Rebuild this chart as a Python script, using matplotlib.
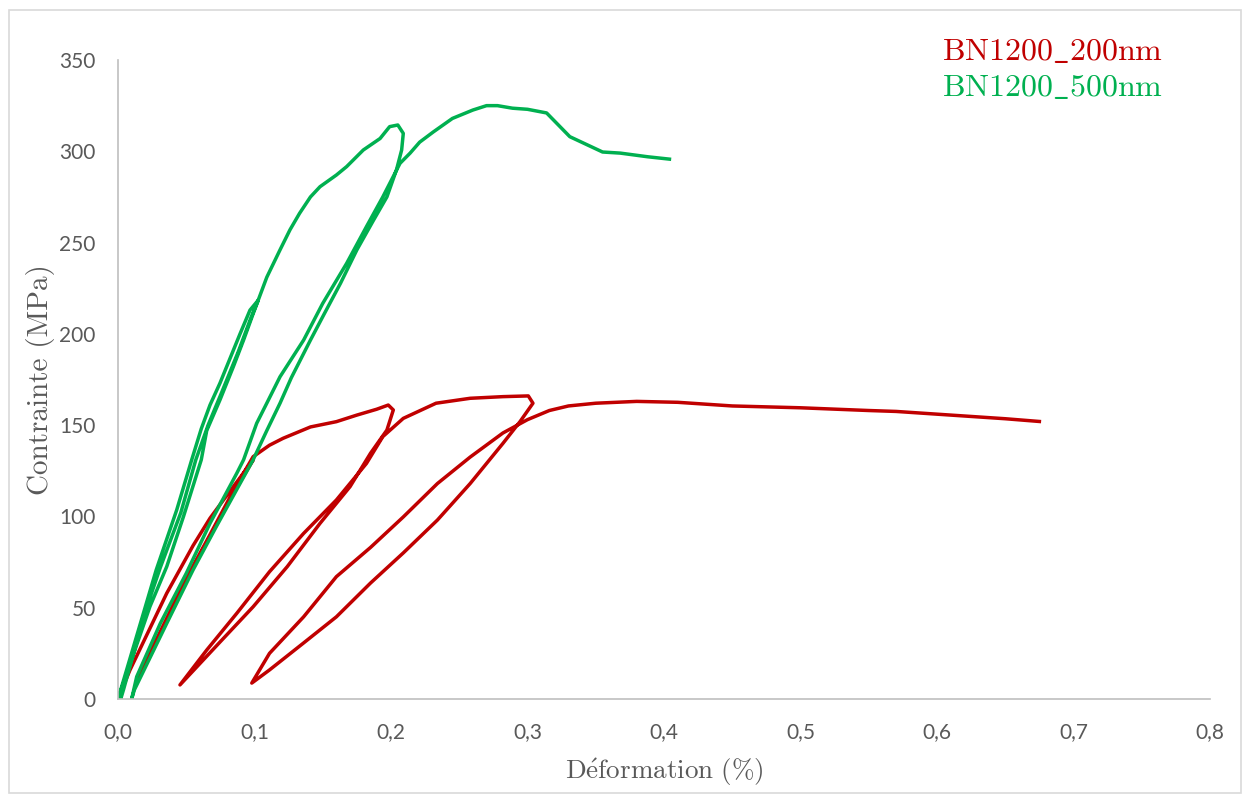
import numpy as np
import matplotlib.pyplot as plt
from matplotlib.patches import Rectangle
from matplotlib.ticker import FuncFormatter

plt.rcParams['mathtext.fontset'] = 'cm'

# strain (%) / stress (MPa)
red_x = [0, 0.0088, 0.0357, 0.055, 0.0674, 0.0845, 0.099,
         0.0845, 0.0674, 0.050, 0.031, 0.0137,
         0.031, 0.050, 0.0674, 0.0845, 0.099, 0.111, 0.121, 0.141, 0.160, 0.175, 0.1895, 0.198, 0.2017,
         0.197, 0.185, 0.170, 0.148, 0.124, 0.099, 0.075, 0.0454,
         0.065, 0.087, 0.111, 0.136, 0.160, 0.182, 0.194, 0.209, 0.233, 0.258, 0.282, 0.3006, 0.304,
         0.2945, 0.282, 0.258, 0.234, 0.209, 0.185, 0.160, 0.136, 0.111, 0.098,
         0.111, 0.136, 0.160, 0.185, 0.209, 0.234, 0.258, 0.282, 0.30, 0.316, 0.33, 0.35, 0.38,
         0.41, 0.45, 0.5, 0.55, 0.57, 0.6, 0.65, 0.675]
red_y = [0, 15.9, 57.9, 84, 99, 116.3, 130.9,
         112.6, 88.9, 65.2, 36, 11.3,
         37, 66, 90, 114, 132.7, 139, 142.8, 149, 151.9, 155.5, 158.7, 161, 158.3,
         147.3, 134.6, 116.3, 96.2, 72.5, 50.5, 31.4, 7.7,
         26.8, 46.9, 69.7, 90.7, 109, 129, 143.7, 153.7, 162, 164.7, 165.6, 166, 162,
         151.9, 140, 118, 98, 80, 63.5, 45, 30.7, 15.9, 8.7,
         25, 45, 67, 83, 99.7, 118, 132.5, 145.7, 153, 158, 160.5, 162, 163,
         162.5, 160.5, 159.5, 158, 157.5, 156, 153.5, 152]

green_x = [0, 0.0186, 0.028, 0.043, 0.054, 0.061, 0.0674, 0.0747, 0.0845, 0.0894, 0.0967, 0.1028,
           0.099, 0.092, 0.0845, 0.0747, 0.065, 0.061, 0.048, 0.0357, 0.0234, 0.0015, 0.002,
           0.004, 0.020, 0.031, 0.046, 0.057, 0.066, 0.076, 0.088, 0.097, 0.103, 0.109, 0.1187,
           0.126, 0.133, 0.141, 0.148, 0.160, 0.1675, 0.1797, 0.192, 0.199, 0.205, 0.209,
           0.2078, 0.204, 0.197, 0.187, 0.175, 0.163, 0.150, 0.141, 0.127, 0.1187, 0.109,
           0.099, 0.072, 0.055, 0.0357, 0.012, 0.010,
           0.0137, 0.031, 0.050, 0.0674, 0.087, 0.092, 0.1016, 0.109, 0.1187, 0.136, 0.150,
           0.1675, 0.182, 0.194, 0.2066, 0.214, 0.221, 0.231, 0.245, 0.26, 0.270, 0.278,
           0.289, 0.30, 0.314, 0.331, 0.355, 0.368, 0.388, 0.404]
green_y = [0, 46.9, 70.7, 103.5, 131, 148, 161, 173, 191, 200, 213, 218.5,
           211, 196.6, 182, 163.8, 147, 131, 100, 72.5, 50.6, 3.3, 0,
           5, 48, 72, 102, 131, 150, 168, 190, 208, 219, 231, 246,
           257, 266, 275, 280.6, 287, 291.6, 300.7, 307, 313.5, 314.4, 309.8,
           300.7, 289.8, 275, 262, 246, 227.7, 209.4, 196.6, 176, 162, 147,
           131, 94.4, 70.7, 41.4, 5, 0,
           12.2, 41.4, 68.8, 96.2, 123.6, 131, 151, 162, 176.5, 196.6, 216.7,
           238.6, 258.7, 275, 293.4, 299, 305, 310.6, 318, 322.6, 325, 325,
           323.6, 323, 321, 308, 299.6, 299, 297, 295.7]

labels = [r"$\mathrm{BN1200\_200nm}$", r"$\mathrm{BN1200\_500nm}$"]
colors = ["#C00000", "#00B050"]

fig = plt.figure(figsize=(12.5, 7.99), dpi=100)
ax = fig.add_axes([0.0944, 0.1252, 0.8736, 0.7997])

ax.plot(red_x, red_y, color=colors[0], lw=2.5, solid_joinstyle='round')
ax.plot(green_x, green_y, color=colors[1], lw=2.5, solid_joinstyle='round')

ax.set_xlim(0, 0.8)
ax.set_ylim(0, 350)
ax.set_xticks(np.arange(0, 0.81, 0.1))
ax.set_yticks(np.arange(0, 351, 50))
ax.xaxis.set_major_formatter(FuncFormatter(lambda v, p: f"{v:.1f}".replace(".", ",")))
ax.tick_params(length=0, labelsize=15, labelcolor="#595959")
ax.tick_params(axis='y', pad=16)
ax.tick_params(axis='x', pad=17)
for lab in ax.get_xticklabels() + ax.get_yticklabels():
    lab.set_family("Lato")

for s in ["top", "right"]:
    ax.spines[s].set_visible(False)
for s in ["left", "bottom"]:
    ax.spines[s].set_color("#BFBFBF")
    ax.spines[s].set_linewidth(1.2)

ax.set_xlabel(r"$\mathrm{D\acute{e}formation\ (\%)}$", fontsize=19.5, color="#595959", labelpad=10)
ax.set_ylabel("Contrainte (MPa)", family="cmr10", fontsize=21, color="#595959", labelpad=3)

fig.text(0.754, 0.935, labels[0], fontsize=23, color=colors[0], va="center")
fig.text(0.754, 0.890, labels[1], fontsize=23, color=colors[1], va="center")

fig.patches.append(Rectangle((0.007, 0.008), 0.986, 0.98, transform=fig.transFigure,
                             fill=False, edgecolor="#D9D9D9", lw=1.2))

fig.savefig("out.png", dpi=100)
